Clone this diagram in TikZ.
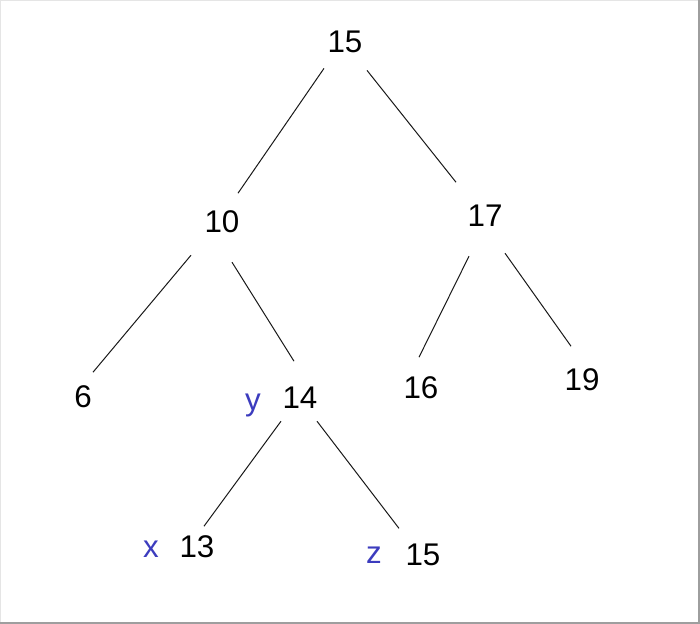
\documentclass[tikz,border=0pt]{standalone}
\usepackage{fontspec}
\setmainfont{Liberation Sans}
\usetikzlibrary{calc}
\definecolor{lblue}{RGB}{60,60,190}
\begin{document}
\begin{tikzpicture}[x=0.75pt,y=-0.75pt,
  num/.style={anchor=base,inner sep=0pt,font=\fontsize{23.5}{28}\selectfont,text=black},
  lab/.style={num,text=lblue},
  edge/.style={line width=0.75pt,draw=black!90}]
\fill[white] (0,0) rectangle (700,624);
\useasboundingbox (0,0) rectangle (700,624);
\draw[black!10,line width=0.75pt] (0.5,624) -- (0.5,0.5) -- (700,0.5);
\draw[black!38,line width=1.5pt] (0,623) -- (699,623) -- (699,0);
% nodes
\node[num] (n15)  at (345,53)  {15};
\node[num] (n10)  at (222,233) {10};
\node[num] (n17)  at (485,227) {17};
\node[num] (n6)   at (83,407)  {6};
\node[num] (n14)  at (300,408) {14};
\node[num] (n16)  at (421,398) {16};
\node[num] (n19)  at (582,390) {19};
\node[num] (n13)  at (197,557) {13};
\node[num] (n15b) at (423,565) {15};
\node[lab] (ly)   at (253,410) {y};
\node[lab] (lx)   at (151,557) {x};
\node[lab] (lz)   at (374,563) {z};
% edges
\draw[edge] ($(n15)+(-21,26)$) -- ($(n10)+(16,-29)$);
\draw[edge] ($(n15)+(22,28)$)  -- ($(n17)+(-29,-34)$);
\draw[edge] ($(n10)+(-31,33)$) -- ($(n6)+(10,-24)$);
\draw[edge] ($(n10)+(10,40)$)  -- ($(n14)+(-6,-36)$);
\draw[edge] ($(n17)+(-16,40)$) -- ($(n16)+(-2,-30)$);
\draw[edge] ($(n17)+(20,37)$)  -- ($(n19)+(-11,-33)$);
\draw[edge] ($(n14)+(-19,24)$) -- ($(n13)+(7,-20)$);
\draw[edge] ($(n14)+(17,24)$)  -- ($(n15b)+(-24,-26)$);
\end{tikzpicture}
\end{document}
